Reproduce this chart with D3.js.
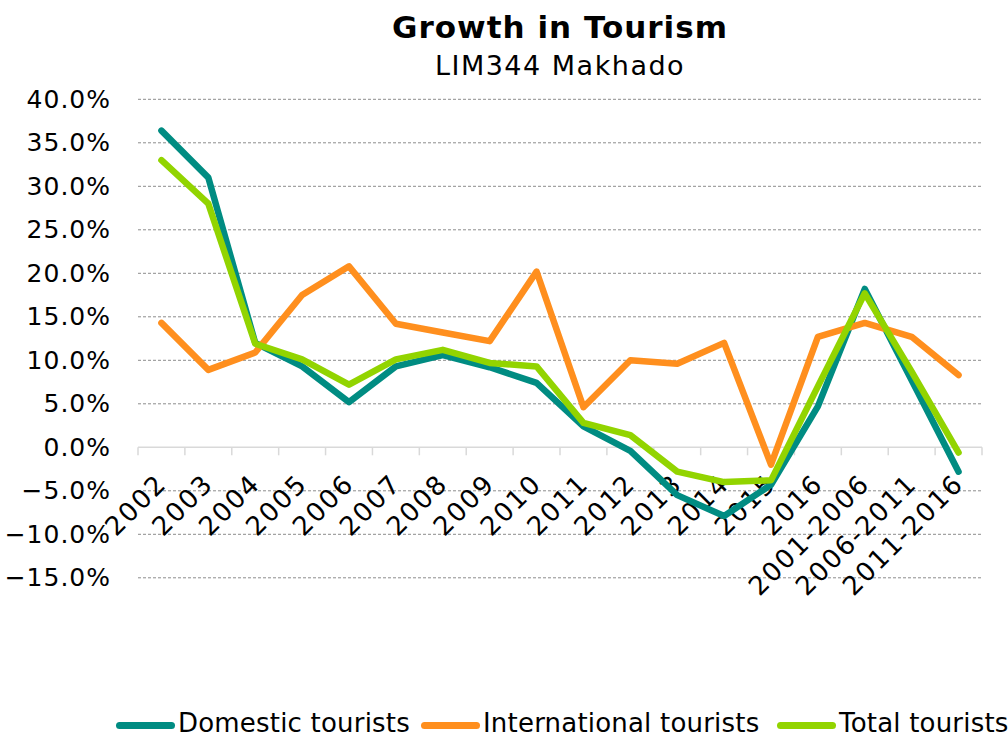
<!DOCTYPE html>
<html>
<head>
<meta charset="utf-8">
<script src="https://cdn.jsdelivr.net/npm/d3@7"></script>
<style>
  html, body { margin: 0; padding: 0; background: #fff; }
  svg { display: block; font-family: Verdana, "DejaVu Sans", sans-serif; }
</style>
</head>
<body>
<svg id="chart" width="1008" height="738"></svg>
<script>
// Year-on-year growth categories, followed by the five-year periods
const categories = ["2002", "2003", "2004", "2005", "2006", "2007", "2008", "2009", "2010",
  "2011", "2012", "2013", "2014", "2015", "2016", "2001-2006", "2006-2011", "2011-2016"];

// Growth rates in percent
const domestic = [36.4, 31.0, 12.0, 9.3, 5.2, 9.3, 10.6, 9.2, 7.4,
  2.4, -0.4, -5.5, -7.9, -4.3, 4.7, 18.2, 7.7, -2.8];
const international = [14.3, 8.9, 10.9, 17.5, 20.8, 14.2, 13.2, 12.2, 20.2,
  4.6, 10.0, 9.6, 12.0, -2.0, 12.7, 14.3, 12.7, 8.3];
const total = [33.0, 28.0, 11.9, 10.1, 7.2, 10.1, 11.2, 9.7, 9.3,
  2.8, 1.4, -2.8, -4.0, -3.8, 7.0, 17.7, 8.7, -0.6];

const yTicks = [-15, -10, -5, 0, 5, 10, 15, 20, 25, 30, 35, 40];

const seriesNames = ["Domestic tourists", "International tourists", "Total tourists"];
const seriesColors = ["#008C82", "#FF8F1E", "#92D400"];
const seriesValues = [domestic, international, total];

const svg = d3.select("#chart");
const plot = { left: 138, right: 982, top: 99.3, bottom: 577.8 };

const x = d3.scaleBand().domain(categories).range([plot.left, plot.right]);
const y = d3.scaleLinear().domain([-15, 40]).range([plot.bottom, plot.top]);

// Dashed horizontal gridlines (zero line is drawn as the category axis)
svg.append("g")
  .selectAll("line")
  .data(yTicks.filter(d => d !== 0))
  .join("line")
  .attr("x1", plot.left).attr("x2", plot.right)
  .attr("y1", d => y(d)).attr("y2", d => y(d))
  .attr("stroke", "#8c8c8c")
  .attr("stroke-width", 1)
  .attr("stroke-dasharray", "3,2");

// Value axis labels
const yAxis = d3.axisLeft(y)
  .tickValues(yTicks)
  .tickSize(0)
  .tickPadding(0)
  .tickFormat(d => d3.format(".1f")(d) + "%");
const yg = svg.append("g").attr("transform", `translate(${plot.left - 27},0)`).call(yAxis);
yg.select(".domain").remove();
yg.selectAll("text")
  .attr("font-size", 25)
  .attr("letter-spacing", 1.0)
  .attr("fill", "#000")
  .attr("font-family", "Verdana, 'DejaVu Sans', sans-serif");

// Category axis at zero with tick marks between categories
const xg = svg.append("g").attr("transform", `translate(0,${y(0)})`);
xg.append("line")
  .attr("x1", plot.left).attr("x2", plot.right)
  .attr("stroke", "#d9d9d9").attr("stroke-width", 1.5);
xg.selectAll("line.tick")
  .data(d3.range(categories.length + 1))
  .join("line")
  .attr("class", "tick")
  .attr("x1", i => plot.left + i * x.step())
  .attr("x2", i => plot.left + i * x.step())
  .attr("y1", 0).attr("y2", 8)
  .attr("stroke", "#d9d9d9").attr("stroke-width", 1.5);

// Rotated category labels
svg.append("g")
  .selectAll("text")
  .data(categories)
  .join("text")
  .attr("transform", d => `translate(${x(d) + x.bandwidth() / 2 + 6.5},${y(0) + 38}) rotate(-45)`)
  .attr("text-anchor", "end")
  .attr("font-size", 26)
  .attr("letter-spacing", 1.8)
  .attr("fill", "#000")
  .text(d => d);

// Series lines
const line = d3.line()
  .x((d, i) => x(categories[i]) + x.bandwidth() / 2)
  .y(d => y(d));

svg.append("g")
  .selectAll("path")
  .data(seriesValues)
  .join("path")
  .attr("d", d => line(d))
  .attr("fill", "none")
  .attr("stroke", (d, i) => seriesColors[i])
  .attr("stroke-width", 6.5)
  .attr("stroke-linejoin", "round")
  .attr("stroke-linecap", "round");

// Titles
svg.append("text")
  .attr("x", 560).attr("y", 38)
  .attr("text-anchor", "middle")
  .attr("font-size", 31)
  .attr("letter-spacing", 1)
  .attr("font-weight", "bold")
  .text("Growth in Tourism");
svg.append("text")
  .attr("x", 560).attr("y", 75)
  .attr("text-anchor", "middle")
  .attr("font-size", 27)
  .attr("letter-spacing", 1.5)
  .text("LIM344 Makhado");

// Legend along the bottom
const legendX = [119.5, 424.5, 780.5];
const legend = svg.append("g")
  .selectAll("g")
  .data(seriesNames)
  .join("g")
  .attr("transform", (d, i) => `translate(${legendX[i]},725.5)`);
legend.append("line")
  .attr("x1", 0).attr("x2", 52)
  .attr("stroke", (d, i) => seriesColors[i])
  .attr("stroke-width", 7)
  .attr("stroke-linecap", "round");
legend.append("text")
  .attr("x", 58.5).attr("y", 6)
  .attr("font-size", 26)
  .attr("letter-spacing", 0.2)
  .text(d => d);
</script>
</body>
</html>
